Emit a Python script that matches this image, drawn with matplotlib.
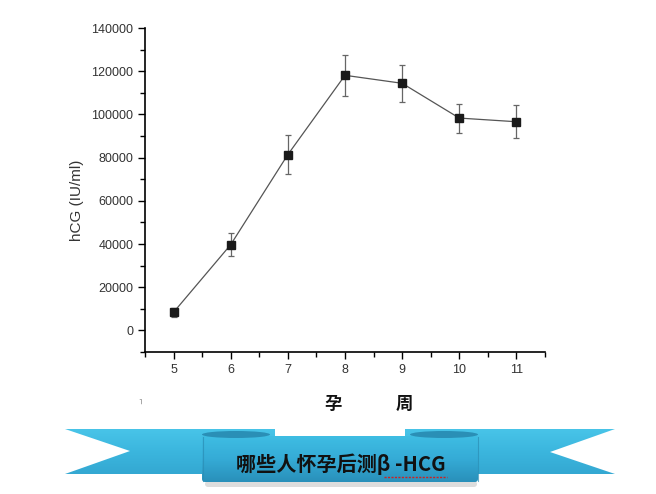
import numpy as np
import matplotlib
matplotlib.use("Agg")
import matplotlib.pyplot as plt
from matplotlib.patches import Polygon, FancyBboxPatch, Ellipse
from matplotlib.colors import LinearSegmentedColormap
from matplotlib.ticker import MultipleLocator

# 孕周 与 hCG 均值 / 标准差
weeks = [5, 6, 7, 8, 9, 10, 11]
hcg_mean = [8400, 39700, 81400, 118100, 114400, 98300, 96600]
hcg_err = [2200, 5300, 9000, 9600, 8500, 6700, 7700]
y_ticks = [0, 20000, 40000, 60000, 80000, 100000, 120000, 140000]

cjk = ["Noto Sans CJK SC", "DejaVu Sans"]
W, H = 656, 494

fig = plt.figure(figsize=(W / 100, H / 100), dpi=100)
ax = fig.add_axes([145 / W, 1 - 352 / H, 400 / W, 324 / H])

ax.errorbar(weeks, hcg_mean, yerr=hcg_err, fmt="-", color="#555555", lw=0.9,
            ecolor="#666666", elinewidth=0.9, capsize=2.5, capthick=0.9, zorder=2)
ax.plot(weeks, hcg_mean, "s", color="#1a1a1a", ms=5.3, zorder=3)

ax.set_xlim(4.5, 11.5)
ax.set_ylim(-10000, 140000)
ax.set_xticks(weeks)
ax.set_yticks(y_ticks)
ax.xaxis.set_minor_locator(MultipleLocator(0.5))
ax.yaxis.set_minor_locator(MultipleLocator(10000))
for s in ["top", "right"]:
    ax.spines[s].set_visible(False)
for s in ["left", "bottom"]:
    ax.spines[s].set_linewidth(1.2)
ax.tick_params(which="major", direction="out", length=5, width=1, labelsize=9,
               labelcolor="#333333", pad=3.5)
ax.tick_params(which="minor", direction="out", length=3.5, width=1)
for lab in ax.get_xticklabels() + ax.get_yticklabels():
    lab.set_family(["Liberation Sans", "DejaVu Sans"])

fig.text(77 / W, 1 - 200 / H, "hCG (IU/ml)", rotation=90, ha="center", va="center",
         fontsize=11, color="#333333", family=["Liberation Sans", "DejaVu Sans"])

# 下方的丝带标题
ov = fig.add_axes([0, 0, 1, 1])
ov.axis("off")
tail_cmap = LinearSegmentedColormap.from_list("tail", ["#48c4e8", "#3bb6de", "#34a8d2"])
panel_cmap = LinearSegmentedColormap.from_list("panel", ["#3ebde3", "#35abd6", "#2990ba"])
grad = np.linspace(0, 1, 64).reshape(-1, 1)


def ribbon(patch, cmap, y0, y1, z):
    patch.set_facecolor("none")
    patch.set_edgecolor("none")
    ov.add_patch(patch)
    im = ov.imshow(grad, cmap=cmap, extent=(0, W, y1, y0), aspect="auto",
                   origin="upper", zorder=z)
    im.set_clip_path(patch)


ov.add_patch(FancyBboxPatch((205, 481), 272, 6, boxstyle="round,pad=0,rounding_size=3",
                            fc="#b5b5b5", ec="none", alpha=0.45, zorder=0.5))
ribbon(Polygon([(65, 429), (275, 429), (275, 474), (65, 474), (130, 451)]),
       tail_cmap, 429, 474, 1)
ribbon(Polygon([(615, 429), (405, 429), (405, 474), (615, 474), (550, 452)]),
       tail_cmap, 429, 474, 1)
ribbon(FancyBboxPatch((202, 436), 276, 46, boxstyle="round,pad=0,rounding_size=3"),
       panel_cmap, 436, 482, 2)
ov.plot([202.5, 202.5], [437, 481], color="#2a8db4", lw=0.8, alpha=0.7, zorder=2.5)
ov.plot([477.5, 477.5], [437, 481], color="#2a8db4", lw=0.8, alpha=0.7, zorder=2.5)
ov.add_patch(Ellipse((236, 434.5), 68, 7, fc="#2a8fb6", ec="none", zorder=3))
ov.add_patch(Ellipse((444, 434.5), 68, 7, fc="#2a8fb6", ec="none", zorder=3))

ov.text(341, 464, "哪些人怀孕后测β -HCG", ha="center", va="center", fontsize=14.5,
        fontweight="bold", color="#111111", family=cjk, zorder=5)
ov.plot([384, 447], [477, 477], color="#d02020", lw=1, ls=(0, (1.5, 1)), zorder=5)

ov.text(333, 404, "孕", ha="center", va="center", fontsize=12.5, fontweight="bold",
        color="#111111", family=cjk)
ov.text(404, 404, "周", ha="center", va="center", fontsize=12.5, fontweight="bold",
        color="#111111", family=cjk)
ov.text(140, 402, "˥", ha="center", va="center", fontsize=5, color="#555555")

ov.set_xlim(0, W)
ov.set_ylim(H, 0)

fig.savefig("out.png", dpi=100)
